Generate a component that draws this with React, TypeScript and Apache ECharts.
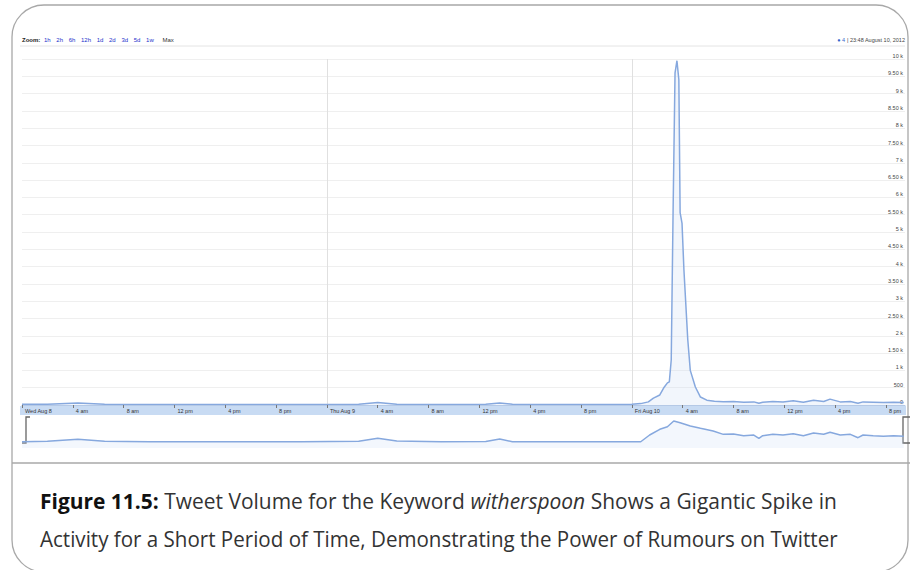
import React, { useEffect, useRef } from "react";
import * as echarts from "echarts";

// Hours since Wed Aug 8 2012 00:00, and tweet volume (main chart)
const mainHours = [0, 2, 4.4, 6.5, 10, 16, 22, 26.5, 28, 29.5, 33, 36.5, 37.6, 38.6, 44, 48, 48.7, 49.3, 49.7, 50.2, 50.5, 50.8, 50.95, 51.1, 51.25, 51.4, 51.55, 51.7, 51.8, 51.95, 52.1, 52.4, 52.6, 53.0, 53.4, 53.9, 54.5, 55.2, 56.0, 56.8, 57.6, 58.0, 58.3, 59.1, 59.9, 60.7, 61.5, 62.3, 63.1, 63.6, 64.4, 65.2, 65.8, 66.2, 67.0, 67.8, 68.6, 69.4];
const mainTweets = [20, 25, 55, 25, 18, 15, 18, 25, 75, 25, 18, 22, 60, 20, 18, 25, 40, 90, 200, 290, 490, 640, 670, 1300, 5700, 9600, 9950, 9400, 5560, 5250, 3900, 1900, 1000, 520, 230, 140, 110, 95, 100, 80, 90, 50, 80, 100, 90, 120, 80, 140, 100, 170, 90, 100, 50, 90, 80, 70, 80, 70];

// Navigator (overview) series, aggregated volume
const navHours = [0, 2, 4.4, 6.5, 10, 16, 22, 26.5, 28, 29.5, 33, 36.5, 37.6, 38.6, 44, 48.7, 49.4, 50.2, 50.8, 51.3, 51.8, 52.6, 53.4, 54.4, 55.2, 56.0, 56.8, 57.6, 58.0, 58.3, 59.1, 59.9, 60.7, 61.5, 62.3, 63.1, 63.6, 64.4, 65.2, 65.8, 66.2, 67.0, 67.8, 68.6, 69.4];
const navTweets = [11, 13, 24, 13, 11, 11, 11, 13, 33, 14, 11, 12, 26, 11, 11, 11, 94, 580, 1330, 8300, 4800, 1660, 800, 340, 117, 130, 75, 94, 33, 75, 117, 94, 142, 75, 178, 117, 222, 94, 117, 40, 94, 75, 62, 75, 62];

// Tick labels
const xTickLabels = ["Wed Aug 8", "4 am", "8 am", "12 pm", "4 pm", "8 pm", "Thu Aug 9", "4 am", "8 am", "12 pm", "4 pm", "8 pm", "Fri Aug 10", "4 am", "8 am", "12 pm", "4 pm", "8 pm"];
const yTickLabels = ["0", "500", "1 k", "1.50 k", "2 k", "2.50 k", "3 k", "3.50 k", "4 k", "4.50 k", "5 k", "5.50 k", "6 k", "6.50 k", "7 k", "7.50 k", "8 k", "8.50 k", "9 k", "9.50 k", "10 k"];
const dayBoundaries = [24, 48];
const zoomLinks = ["1h", "2h", "6h", "12h", "1d", "2d", "3d", "5d", "1w"];

const LINE = "#86a8de";
const SMALL = "'Liberation Sans', Arial, sans-serif";
const CAP = "'Open Sans', sans-serif";

export default function App() {
  const ref = useRef<HTMLDivElement>(null);
  useEffect(() => {
    document.body.style.margin = "0";
    const chart = echarts.init(ref.current!, null, { renderer: "svg" });
    const mainData = mainHours.map((h, i) => [h, mainTweets[i]]);
    const navData = navHours.map((h, i) => [h, navTweets[i]]);
    const zoomRich: any = {
      z: { fontWeight: "bold", fontSize: 6, fill: "#222", fontFamily: SMALL },
      l: { fontSize: 6, fill: "#2233cc", fontFamily: SMALL, padding: [0, 2, 0, 2] },
      m: { fontSize: 6, fill: "#333", fontFamily: SMALL, padding: [0, 0, 0, 5] },
    };
    const zoomText = "{z|Zoom:} " + zoomLinks.map((z) => `{l|${z}}`).join(" ") + " {m|Max}";
    const capRich: any = {
      b: { fontWeight: "bold", fontSize: 22, fill: "#111", fontFamily: CAP },
      i: { fontStyle: "italic", fontSize: 22, fill: "#333", fontFamily: CAP },
    };
    const option: any = {
      animation: false,
      grid: [
        { left: 22, right: 5, top: 59, height: 346 },
        { left: 22, right: 5, top: 417, height: 31 },
      ],
      xAxis: [
        {
          type: "value",
          gridIndex: 0,
          min: 0,
          max: 69.5,
          interval: 4,
          z: 10,
          axisLine: { show: true, lineStyle: { color: "#b5c9e6" } },
          axisTick: { show: true, length: 3, lineStyle: { color: "#777" } },
          splitLine: { show: false },
          axisLabel: {
            fontSize: 5.5,
            fontFamily: SMALL,
            color: "#333",
            margin: 3,
            align: "left",
            padding: [0, 0, 0, 3],
            showMaxLabel: false,
            formatter: (v: number) => xTickLabels[Math.round(v / 4)] ?? "",
          },
        },
        { type: "value", gridIndex: 1, min: 0, max: 69.5, show: false },
      ],
      yAxis: [
        {
          type: "value",
          gridIndex: 0,
          position: "right",
          min: 0,
          max: 10000,
          interval: 500,
          axisLine: { show: false },
          axisTick: { show: false },
          splitLine: { lineStyle: { color: "#efefef" } },
          axisLabel: {
            inside: true,
            margin: 2,
            fontSize: 5.5,
            fontFamily: SMALL,
            color: "#444",
            verticalAlign: "bottom",
            formatter: (v: number) => yTickLabels[Math.round(v / 500)] ?? "",
          },
        },
        { type: "log", gridIndex: 1, min: 1.5, max: 29500, show: false },
      ],
      series: [
        {
          type: "line",
          xAxisIndex: 0,
          yAxisIndex: 0,
          data: mainData,
          symbol: "none",
          lineStyle: { color: LINE, width: 1.5 },
          areaStyle: { color: "rgba(200,218,243,0.35)" },
          markLine: {
            silent: true,
            symbol: "none",
            label: { show: false },
            lineStyle: { color: "#e0e0e0", type: "solid", width: 1 },
            data: dayBoundaries.map((d) => ({ xAxis: d })),
          },
          z: 5,
        },
        {
          type: "line",
          xAxisIndex: 1,
          yAxisIndex: 1,
          data: navData,
          symbol: "none",
          lineStyle: { color: LINE, width: 1.5 },
          areaStyle: { color: "rgba(205,222,245,0.35)", origin: "start" },
        },
      ],
      graphic: [
        {
          type: "rect",
          z: -1,
          shape: { x: 12, y: 5, width: 896, height: 567, r: 32 },
          style: { fill: "#fff", stroke: "#a8a8a8", lineWidth: 1.3 },
        },
        {
          type: "line",
          shape: { x1: 12, y1: 463, x2: 910, y2: 463 },
          style: { stroke: "#a8a8a8", lineWidth: 1.3 },
        },
        {
          type: "line",
          shape: { x1: 20, y1: 46, x2: 905, y2: 46 },
          style: { stroke: "#e4e4e4", lineWidth: 1 },
        },
        {
          type: "rect",
          z: 0,
          shape: { x: 20, y: 406, width: 886, height: 9 },
          style: { fill: "#c8dbf3" },
        },
        {
          type: "polyline",
          shape: { points: [[30, 417], [26, 417], [26, 443], [22, 443]] },
          style: { stroke: "#666", lineWidth: 1.3, fill: null },
        },
        {
          type: "polyline",
          shape: { points: [[910, 417], [903, 417], [903, 443], [910, 443]] },
          style: { stroke: "#666", lineWidth: 1.3, fill: null },
        },
        {
          type: "text",
          x: 22,
          y: 37,
          style: { text: zoomText, rich: zoomRich, fontSize: 6, fontFamily: SMALL, fill: "#333" },
        },
        {
          type: "text",
          x: 905,
          y: 37,
          style: {
            text: "{d|●} {n|4} | 23:48 August 10, 2012",
            align: "right",
            fontSize: 5.5,
            fontFamily: SMALL,
            fill: "#444",
            rich: {
              d: { fill: "#3366cc", fontSize: 5.5 },
              n: { fill: "#3366cc", fontSize: 5.5, fontFamily: SMALL },
            },
          },
        },
        {
          type: "text",
          x: 40,
          y: 500,
          scaleX: 0.953,
          style: {
            text: "{b|Figure 11.5:} Tweet Volume for the Keyword {i|witherspoon} Shows a Gigantic Spike in",
            fontSize: 22,
            fontFamily: CAP,
            fill: "#333",
            verticalAlign: "middle",
            rich: capRich,
          },
        },
        {
          type: "text",
          x: 40,
          y: 538,
          scaleX: 0.935,
          style: {
            text: "Activity for a Short Period of Time, Demonstrating the Power of Rumours on Twitter",
            fontSize: 22,
            fontFamily: CAP,
            fill: "#333",
            verticalAlign: "middle",
          },
        },
      ],
    };
    chart.setOption(option);
    return () => chart.dispose();
  }, []);
  return <div ref={ref} style={{ width: 910, height: 570 }} />;
}
